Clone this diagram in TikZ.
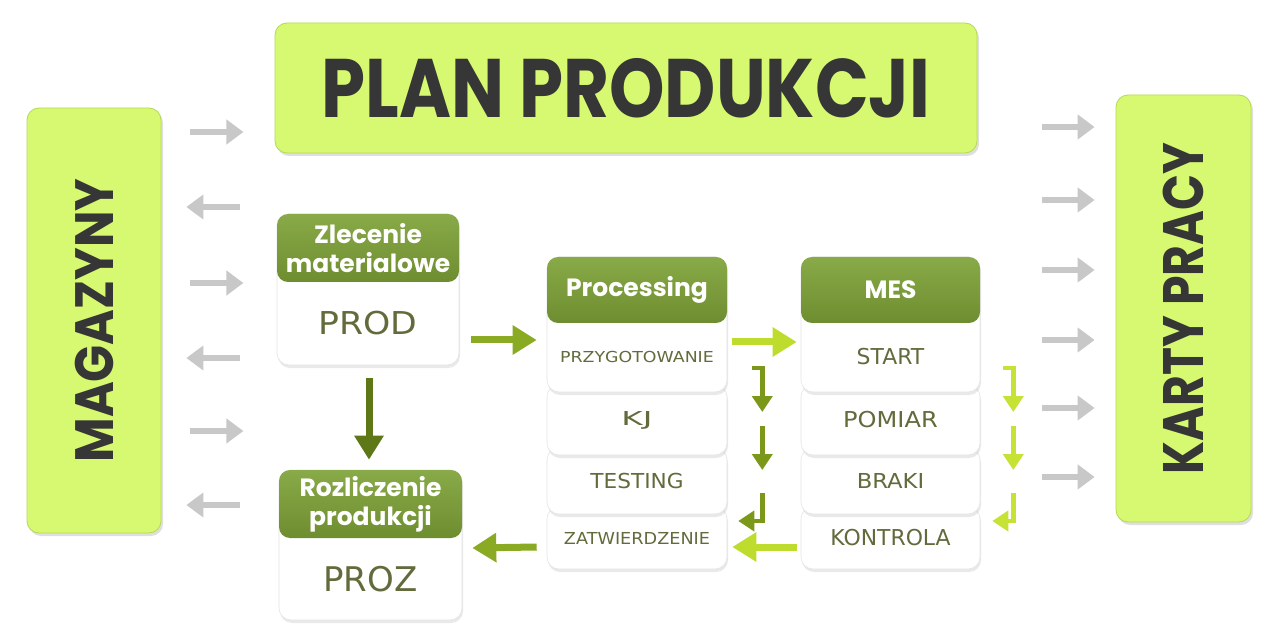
\documentclass[tikz,border=0pt]{standalone}
\usepackage{fontspec}
\setmainfont{Poppins}
\newfontfamily\dig{DejaVu Sans}
\usetikzlibrary{arrows.meta,shadows,calc}
\definecolor{lime}{HTML}{D7F971}
\definecolor{limeedge}{HTML}{B5D955}
\definecolor{hdrtop}{HTML}{89AA48}
\definecolor{hdrbot}{HTML}{6E8D30}
\definecolor{digit}{HTML}{616B3C}
\definecolor{gry}{HTML}{C8C8C8}
\definecolor{dkarrow}{HTML}{5E7818}
\definecolor{mdarrow}{HTML}{8BAA24}
\definecolor{ltarrow}{HTML}{BEDC2E}
\definecolor{olarrow}{HTML}{7C981A}
\definecolor{lmarrow}{HTML}{C6E235}
\definecolor{txt}{HTML}{363636}
\begin{document}
\begin{tikzpicture}[x=1pt,y=-1pt,
  limebox/.style={draw=limeedge, line width=0.8pt, fill=lime, rounded corners=12pt,
    drop shadow={opacity=0.25, fill=black!50, shadow xshift=2pt, shadow yshift=-3pt},
    inner sep=0pt, text=txt},
  card/.style={draw=black!10, line width=0.6pt, fill=white, rounded corners=12pt,
    drop shadow={opacity=0.14, fill=black!60, shadow xshift=1pt, shadow yshift=-3pt},
    minimum width=#1, inner sep=0pt},
  hdr/.style={top color=hdrtop, bottom color=hdrbot, draw=none, rounded corners=11pt,
    text=white, font=\bfseries\fontsize{25}{29}\selectfont, align=center, inner sep=0pt,
    minimum width=#1, minimum height=66pt},
  dlabel/.style={text=digit, inner sep=0pt},
  arr/.style={draw=#1, line width=7pt, -{Triangle[length=24pt,width=28pt]}},
  sarr/.style={draw=#1, line width=4.5pt, -{Triangle[length=16pt,width=20pt]}},
  garr/.style={draw=gry, line width=6pt, -{Triangle[length=17pt,width=24pt]}},
]
\useasboundingbox (0,0) rectangle (1280,644);
\fill[white] (0,0) rectangle (1280,644);

% big lime boxes
\node[limebox, minimum width=702pt, minimum height=130pt] (plan) at (626,88)
  {\bfseries\fontsize{83}{90}\selectfont\scalebox{0.85}[1]{PLAN PRODUKCJI}};
\node[limebox, rotate=90, minimum width=425pt, minimum height=134pt] (mag) at (94,320.5)
  {\bfseries\fontsize{54}{60}\selectfont\scalebox{0.9}[1]{MAGAZYNY}};
\node[limebox, rotate=90, minimum width=427pt, minimum height=135pt] (karty) at (1183.5,308.5)
  {\bfseries\fontsize{57}{62}\selectfont\scalebox{0.83}[1]{KARTY PRACY}};

% Zlecenie materialowe
\node[card=182pt, minimum height=151pt] (zc) at (368,289.5) {};
\node[hdr=182pt, minimum height=68pt] (zh) at (368,248) {Zlecenie\\materialowe};
\node[dlabel, font=\dig\fontsize{31.5}{34}\selectfont] (zt) at (368,323) {\scalebox{1.1}[1]{PROD}};

% Rozliczenie produkcji
\node[card=183pt, minimum height=150pt] (rc) at (370.5,545) {};
\node[hdr=183pt, minimum height=68pt] (rh) at (370.5,504) {Rozliczenie\\produkcji};
\node[dlabel, font=\dig\fontsize{34}{36}\selectfont] (rt) at (370.5,579) {PROZ};

% Processing column
\node[card=180pt, minimum height=62pt] (p4) at (637,538) {};
\node[dlabel, font=\dig\fontsize{16.5}{18}\selectfont] at (p4) {\scalebox{1.07}[1]{ZATWIERDZENIE}};
\node[card=180pt, minimum height=66pt] (p3) at (637,481) {};
\node[dlabel, font=\dig\fontsize{20.6}{22}\selectfont] at (p3) {\scalebox{1.05}[1]{TESTING}};
\node[card=180pt, minimum height=70pt] (p2) at (637,420) {};
\node[dlabel, font=\dig\fontsize{19.2}{21}\selectfont] at (p2) {\scalebox{1.7}[1]{KJ}};
\node[card=180pt, minimum height=135pt] (pc) at (637,324.5) {};
\node[hdr=180pt] (ph) at (637,290) {Processing};
\node[dlabel, font=\dig\fontsize{15.1}{17}\selectfont] (p1) at (637,357) {\scalebox{1.15}[1]{PRZYGOTOWANIE}};

% MES column
\node[card=179pt, minimum height=62pt] (m4) at (890.5,538) {};
\node[dlabel, font=\dig\fontsize{21.9}{24}\selectfont] at (m4) {KONTROLA};
\node[card=179pt, minimum height=66pt] (m3) at (890.5,481) {};
\node[dlabel, font=\dig\fontsize{20.6}{22}\selectfont] at (m3) {\scalebox{1.1}[1]{BRAKI}};
\node[card=179pt, minimum height=70pt] (m2) at (890.5,420) {};
\node[dlabel, font=\dig\fontsize{21.9}{24}\selectfont] at (m2) {\scalebox{1.1}[1]{POMIAR}};
\node[card=179pt, minimum height=135pt] (mc) at (890.5,324.5) {};
\node[hdr=179pt] (mh) at (890.5,290) {MES};
\node[dlabel, font=\dig\fontsize{21.9}{24}\selectfont] (m1) at (890.5,357) {START};

% main arrows
\draw[arr=mdarrow] ([xshift=12pt,yshift=-50.5pt]zc.east) -- ([xshift=-10pt,yshift=-15.5pt]pc.west);
\draw[arr=dkarrow] ([xshift=1pt,yshift=-13pt]zc.south) -- ([xshift=-1.5pt,yshift=10pt]rc.north);
\draw[arr=ltarrow] ([xshift=5pt,yshift=-17.5pt]pc.east) -- ([xshift=-4pt,yshift=-17.5pt]mc.west);
\draw[arr=ltarrow] ([xshift=-4pt,yshift=-9pt]m4.west) -- ([xshift=5pt,yshift=-9pt]p4.east);
\draw[arr=mdarrow] ([xshift=-10pt,yshift=-9pt]p4.west) -- ([xshift=10pt,yshift=-3pt]rc.east);

% small step arrows, Processing
\draw[sarr=olarrow] ($(pc.east|-p1)+(25,11)$) -| ($(pc.east|-p2)+(35,-8)$);
\draw[sarr=olarrow] ($(pc.east|-p2)+(35,6)$) -- ($(pc.east|-p3)+(35,-11)$);
\draw[sarr=olarrow] ($(pc.east|-p3)+(35,12)$) |- ($(pc.east|-p4)+(11,-17)$);
% small step arrows, MES
\draw[sarr=lmarrow] ($(mc.east|-m1)+(23,11)$) -| ($(mc.east|-m2)+(33,-8)$);
\draw[sarr=lmarrow] ($(mc.east|-m2)+(33,6)$) -- ($(mc.east|-m3)+(33,-11)$);
\draw[sarr=lmarrow] ($(mc.east|-m3)+(33,12)$) |- ($(mc.east|-m4)+(12,-17)$);

% gray arrows, left (rotated node: south anchor is its right side)
\foreach \y in {132,283,431}
  \draw[garr] ($(mag.south)+(29,\y-320.5)$) -- ($(mag.south)+(82,\y-320.5)$);
\foreach \y in {207,358,505}
  \draw[garr] ($(mag.south)+(79,\y-320.5)$) -- ($(mag.south)+(25,\y-320.5)$);
% gray arrows, right (rotated node: north anchor is its left side)
\foreach \y in {127,200,270,340,408,477}
  \draw[garr] ($(karty.north)+(-74,\y-308.5)$) -- ($(karty.north)+(-21,\y-308.5)$);
\end{tikzpicture}
\end{document}
